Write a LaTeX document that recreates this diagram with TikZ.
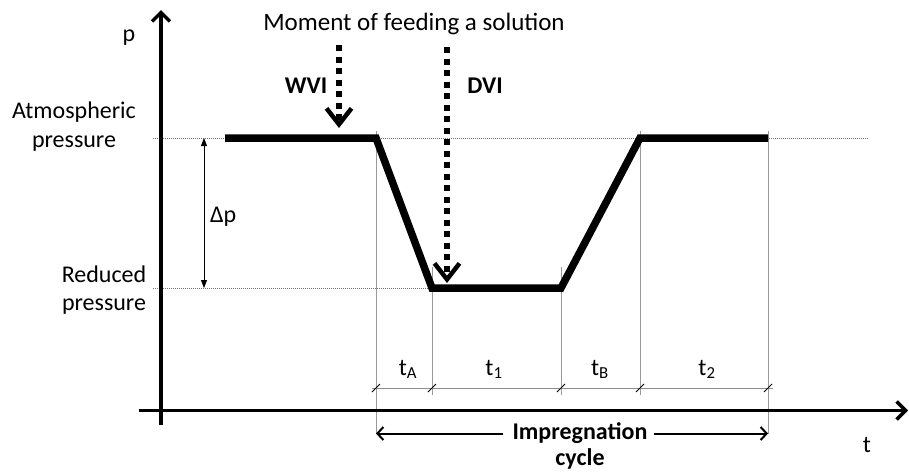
\documentclass[tikz,border=0pt]{standalone}
\usepackage{fontspec}
\setmainfont{Carlito}
\usetikzlibrary{arrows.meta}
\begin{document}
\begin{tikzpicture}[x=1pt,y=-1pt,
  lbl/.style={font=\fontsize{24}{28.5}\selectfont, inner sep=0pt, anchor=base},
  blbl/.style={font=\fontsize{24}{28.5}\selectfont\bfseries, inner sep=0pt, anchor=base},
  axisline/.style={line width=3.5pt, -{Straight Barb[length=9pt,width=18pt]}},
  profile/.style={line width=7.5pt, line join=miter},
  guide/.style={black!55, line width=0.7pt, dash pattern=on 1pt off 1pt},
  vline/.style={black!40, line width=0.9pt},
  dimline/.style={black!45, line width=0.9pt},
  tickmark/.style={black, line width=1pt},
  feed/.style={line width=6pt, dash pattern=on 6pt off 5.5pt, -{Straight Barb[length=16pt,width=25pt,line width=4.5pt]}},
  deltaarrow/.style={black, line width=0.8pt, {Triangle[length=8pt,width=6pt]}-{Triangle[length=8pt,width=6pt]}},
  cyclearrow/.style={black, line width=2pt, -{Straight Barb[length=6pt,width=13pt]}}
]
\useasboundingbox (0,0) rectangle (909,472);

% key coordinates
\coordinate (ybot) at (161,425);
\coordinate (ytop) at (161,10);
\coordinate (xl) at (139,410.5);
\coordinate (xr) at (908,410.5);
\coordinate (ga1) at (153,138);
\coordinate (ga2) at (868,138);
\coordinate (gr1) at (153,288);
\coordinate (gr2) at (432,288);
\coordinate (P0) at (225,138);
\coordinate (P1) at (376,138);
\coordinate (P2) at (432,288);
\coordinate (P3) at (561,288);
\coordinate (P4) at (640,138);
\coordinate (P5) at (768,138);

% guides
\draw[guide] (ga1) -- (ga2);
\draw[guide] (gr1) -- (gr2);

% vertical lines
\coordinate (v1t) at (376,131); \coordinate (v1b) at (376,433.5);
\coordinate (v2t) at (432,267); \coordinate (v2b) at (432,395);
\coordinate (v3t) at (561,267); \coordinate (v3b) at (561,395);
\coordinate (v4t) at (640,131); \coordinate (v4b) at (640,395);
\coordinate (v5t) at (768,131); \coordinate (v5b) at (768,433.5);
\draw[vline] (v1t) -- (v1b);
\draw[vline] (v2t) -- (v2b);
\draw[vline] (v3t) -- (v3b);
\draw[vline] (v4t) -- (v4b);
\draw[vline] (v5t) -- (v5b);

% dimension line with ticks
\coordinate (d0) at (372,388);
\coordinate (d1) at (773,388);
\draw[dimline] (d0) -- (d1);
\foreach \xx/\nm in {376/da,432/db,561/dc,640/dd,768/de}{
  \coordinate (\nm) at (\xx,388);
  \draw[tickmark] ([shift={(-4,4)}]\nm) -- ([shift={(4,-4)}]\nm);
}

% axes
\draw[axisline] (ybot) -- (ytop);
\draw[axisline] (xl) -- (xr);

% profile
\draw[profile] (P0) -- (P1) -- (P2) -- (P3) -- (P4) -- (P5);

% delta p arrow
\coordinate (dp1) at (204,138);
\coordinate (dp2) at (204,288);
\draw[deltaarrow] (dp1) -- (dp2);
\node[lbl, anchor=base west] (dplbl) at (210,222) {Δp};

% feeding arrows
\coordinate (w1) at (339,45);
\coordinate (w2) at (339,128);
\coordinate (dv1) at (447,47);
\coordinate (dv2) at (447,283);
\draw[feed] (w1) -- (w2);
\draw[feed] (dv1) -- (dv2);

% labels
\node[lbl, font=\fontsize{25}{30}\selectfont] (title) at (414,30) {Moment of feeding a solution};
\node[blbl] (wvi) at (306,93) {WVI};
\node[blbl] (dvi) at (485,93) {DVI};
\node[lbl] (plbl) at (129,41) {p};
\node[lbl] (tlbl) at (867,452) {t};
\node[lbl] (atm1) at (74,118) {Atmospheric};
\node[lbl] (atm2) at (74,147) {pressure};
\node[lbl] (red1) at (104,282) {Reduced};
\node[lbl] (red2) at (104,310.5) {pressure};
\node[lbl] (tA) at (408,375) {t\textsubscript{A}};
\node[lbl] (t1) at (494,375) {t\textsubscript{1}};
\node[lbl] (tB) at (600,375) {t\textsubscript{B}};
\node[lbl] (t2) at (707,375) {t\textsubscript{2}};

% impregnation cycle
\node[blbl] (imp) at (580,439.5) {Impregnation};
\node[blbl] (cyc) at (580,465) {cycle};
\coordinate (c1) at (376,433.5);
\coordinate (c2) at (768,433.5);
\draw[cyclearrow] ([xshift=-9pt]imp.west |- c1) -- (c1);
\draw[cyclearrow] ([xshift=6pt]imp.east |- c2) -- (c2);
\end{tikzpicture}
\end{document}
